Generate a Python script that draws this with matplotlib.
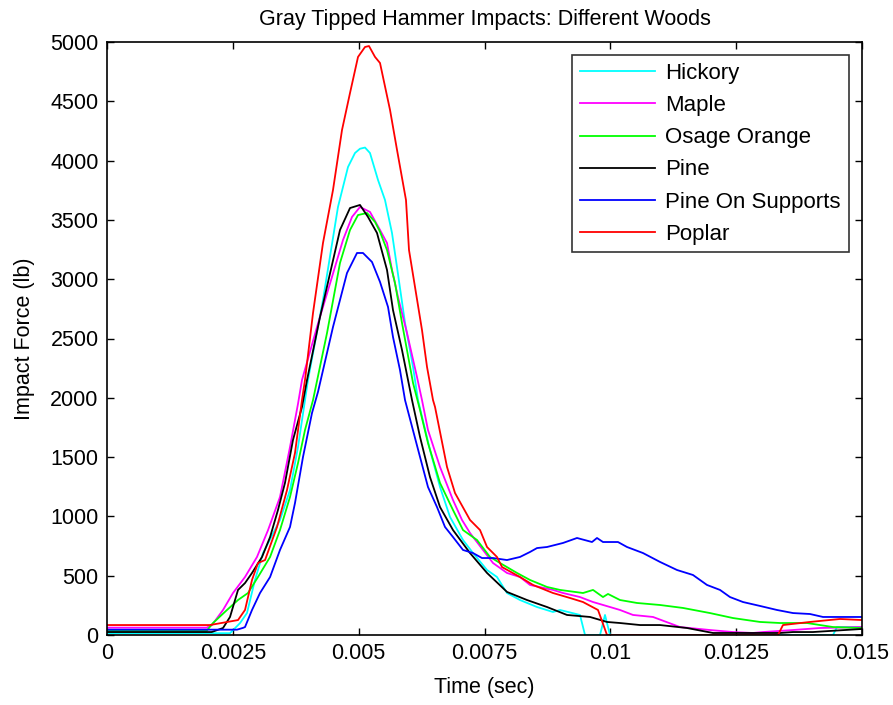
import matplotlib
matplotlib.use("Agg")
import matplotlib.pyplot as plt

plt.rcParams['font.family'] = ['Liberation Sans', 'DejaVu Sans']

hickory_t = [0, 0.002444, 0.002642, 0.002781, 0.00294, 0.0031, 0.003437, 0.003636, 0.003795, 0.003934, 0.003993,
             0.004291, 0.004589, 0.004788, 0.004927, 0.005026, 0.005126, 0.005225, 0.005384, 0.005523, 0.005662,
             0.005762, 0.005921, 0.00608, 0.006179, 0.006417, 0.006616, 0.006815, 0.007073, 0.007272, 0.00755,
             0.007748, 0.007947, 0.008205, 0.008543, 0.008861, 0.009, 0.009397, 0.009497, 0.009795, 0.009894,
             0.009993, 0.014424, 0.014503, 0.015]
hickory_f = [15, 15, 100, 185, 464, 691, 970, 1222, 1585, 1981, 2150,
             2825, 3609, 3946, 4064, 4100, 4110, 4064, 3837, 3668, 3390,
             3100, 2631, 2260, 1981, 1560, 1248, 995, 801, 691, 548,
             489, 354, 295, 236, 194, 211, 169, 0, 0, 169,
             0, 0, 67, 67]

maple_t = [0, 0.00198, 0.002086, 0.002305, 0.002503, 0.002742, 0.00298, 0.0032, 0.003437, 0.003636, 0.003795,
           0.003874, 0.004172, 0.00447, 0.004689, 0.004868, 0.005026, 0.005225, 0.005424, 0.005563, 0.005662,
           0.005781, 0.00596, 0.006159, 0.006258, 0.006377, 0.006616, 0.006874, 0.007053, 0.007212, 0.00747,
           0.007669, 0.007947, 0.008205, 0.008404, 0.008861, 0.00906, 0.009397, 0.009656, 0.009993, 0.010192,
           0.01045, 0.010848, 0.011384, 0.01198, 0.012437, 0.012834, 0.013033, 0.013629, 0.014165, 0.01496, 0.015]
maple_f = [62, 62, 84, 211, 354, 489, 658, 885, 1164, 1585, 1950,
           2150, 2597, 3019, 3331, 3525, 3609, 3567, 3415, 3305, 3078,
           2850, 2547, 2175, 1981, 1729, 1417, 1138, 970, 860, 717,
           607, 523, 489, 422, 380, 354, 320, 278, 236, 211,
           169, 152, 67, 42, 25, 17, 25, 42, 59, 67, 67]

osage_t = [0, 0.00198, 0.002106, 0.002384, 0.002603, 0.002801, 0.003, 0.00324, 0.003437, 0.003636, 0.003795,
           0.003934, 0.004093, 0.004371, 0.004629, 0.004828, 0.004987, 0.005166, 0.005325, 0.005424, 0.005563,
           0.005722, 0.005861, 0.00608, 0.006219, 0.006377, 0.006616, 0.006874, 0.007073, 0.007351, 0.007609,
           0.007808, 0.008146, 0.008404, 0.008742, 0.009, 0.009457, 0.009656, 0.009854, 0.009954, 0.010192,
           0.01053, 0.010987, 0.011444, 0.01198, 0.012437, 0.012973, 0.013371, 0.013907, 0.014424, 0.01496, 0.015]
osage_f = [35, 35, 101, 211, 295, 354, 489, 658, 885, 1164, 1450,
           1729, 1981, 2546, 3137, 3415, 3541, 3558, 3483, 3400, 3246,
           2968, 2631, 2125, 1897, 1619, 1282, 1054, 885, 801, 658,
           607, 523, 464, 405, 380, 354, 380, 320, 346, 295,
           270, 253, 228, 185, 143, 110, 101, 101, 67, 59, 59]

pine_t = [0, 0.00208, 0.002305, 0.002444, 0.002603, 0.002742, 0.002881, 0.00308, 0.00324, 0.003397, 0.003536,
          0.003695, 0.003874, 0.003974, 0.004232, 0.004629, 0.004828, 0.005026, 0.005185, 0.005364, 0.005563,
          0.005682, 0.005861, 0.00606, 0.006219, 0.006417, 0.006616, 0.006874, 0.007212, 0.00755, 0.007947,
          0.008344, 0.008742, 0.009139, 0.009596, 0.009934, 0.010192, 0.01059, 0.010987, 0.011523, 0.01204,
          0.013371, 0.013629, 0.014026, 0.01496, 0.015]
pine_f = [25, 25, 59, 152, 380, 438, 523, 658, 826, 1054, 1282,
          1644, 1923, 2150, 2681, 3415, 3600, 3626, 3525, 3390, 3078,
          2740, 2403, 1981, 1670, 1332, 1079, 885, 691, 523, 363,
          295, 236, 169, 152, 110, 101, 84, 84, 59, 17,
          17, 25, 25, 50, 50]

supports_t = [0, 0.002583, 0.002702, 0.002742, 0.002881, 0.00304, 0.00324, 0.003437, 0.003636, 0.003735, 0.003894,
              0.004073, 0.004192, 0.00449, 0.004768, 0.004967, 0.005086, 0.005265, 0.005424, 0.005583, 0.005682,
              0.005821, 0.005921, 0.006219, 0.006377, 0.006556, 0.006715, 0.006874, 0.007073, 0.007272, 0.00745,
              0.007669, 0.007947, 0.008205, 0.008404, 0.008543, 0.008742, 0.00906, 0.009338, 0.009636, 0.009735,
              0.009854, 0.010152, 0.010331, 0.010649, 0.010987, 0.011325, 0.011642, 0.01192, 0.012179, 0.012377,
              0.012636, 0.012973, 0.013311, 0.013629, 0.013967, 0.014225, 0.015]
supports_f = [45, 45, 60, 67, 211, 354, 489, 717, 911, 1113, 1501,
              1872, 2050, 2597, 3052, 3221, 3221, 3145, 2977, 2766, 2513,
              2234, 1981, 1501, 1248, 1079, 911, 826, 717, 691, 649,
              649, 632, 658, 700, 733, 742, 776, 818, 784, 818,
              784, 784, 742, 691, 616, 548, 506, 422, 380, 320,
              278, 245, 211, 185, 177, 152, 152]

poplar_t = [0, 0.002046, 0.002603, 0.002742, 0.002881, 0.003, 0.00314, 0.003377, 0.003576, 0.003735, 0.003874,
            0.003934, 0.004093, 0.004291, 0.00449, 0.004669, 0.004828, 0.004987, 0.005126, 0.005205, 0.005325,
            0.005424, 0.005623, 0.005762, 0.00594, 0.006, 0.006258, 0.006358, 0.006477, 0.006517, 0.006755,
            0.006914, 0.007212, 0.007411, 0.00755, 0.007748, 0.007848, 0.008205, 0.008464, 0.008861, 0.009199,
            0.009457, 0.009755, 0.009934, 0.013331, 0.01343, 0.013967, 0.014563, 0.015]
poplar_f = [84, 84, 126, 211, 464, 607, 632, 910, 1222, 1535, 1981,
            2150, 2715, 3305, 3752, 4258, 4570, 4874, 4958, 4966, 4874,
            4823, 4427, 4090, 3668, 3246, 2572, 2260, 1981, 1923, 1417,
            1197, 970, 885, 742, 658, 573, 489, 422, 354, 312,
            278, 211, 0, 0, 84, 110, 135, 126]

labels = ['Hickory', 'Maple', 'Osage Orange', 'Pine', 'Pine On Supports', 'Poplar']
colors = ['#00ffff', '#ff00ff', '#00ff00', '#000000', '#0000ff', '#ff0000']
x_ticks = [0, 0.0025, 0.005, 0.0075, 0.01, 0.0125, 0.015]
x_tick_labels = ['0', '0.0025', '0.005', '0.0075', '0.01', '0.0125', '0.015']
y_ticks = list(range(0, 5001, 500))

series = [(hickory_t, hickory_f), (maple_t, maple_f), (osage_t, osage_f),
          (pine_t, pine_f), (supports_t, supports_f), (poplar_t, poplar_f)]

fig = plt.figure(figsize=(8.93, 7.05), dpi=100)
ax = fig.add_axes([107/893, 1 - 635/705, 755/893, 593/705])
for (t, f), lab, c in zip(series, labels, colors):
    ax.plot(t, f, color=c, lw=1.3, label=lab)

ax.set_xlim(0, 0.015)
ax.set_ylim(0, 5000)
ax.set_xticks(x_ticks)
ax.set_xticklabels(x_tick_labels)
ax.set_yticks(y_ticks)
ax.tick_params(direction='in', top=True, right=True, labelsize=15.5, length=5, width=1, pad=6)
for s in ax.spines.values():
    s.set_linewidth(1.2)
ax.set_xlabel('Time (sec)', fontsize=15.5, labelpad=9)
ax.set_ylabel('Impact Force (lb)', fontsize=15.5, labelpad=11)
ax.set_title('Gray Tipped Hammer Impacts: Different Woods', fontsize=15.5, pad=12)

leg = ax.legend(loc='upper right', fontsize=16, frameon=True, fancybox=False, edgecolor='black',
                handlelength=3.4, handletextpad=0.45, labelspacing=0.5, borderpad=0.35,
                borderaxespad=0.6)
leg.get_frame().set_linewidth(1.2)

fig.savefig('out.png', dpi=100)
